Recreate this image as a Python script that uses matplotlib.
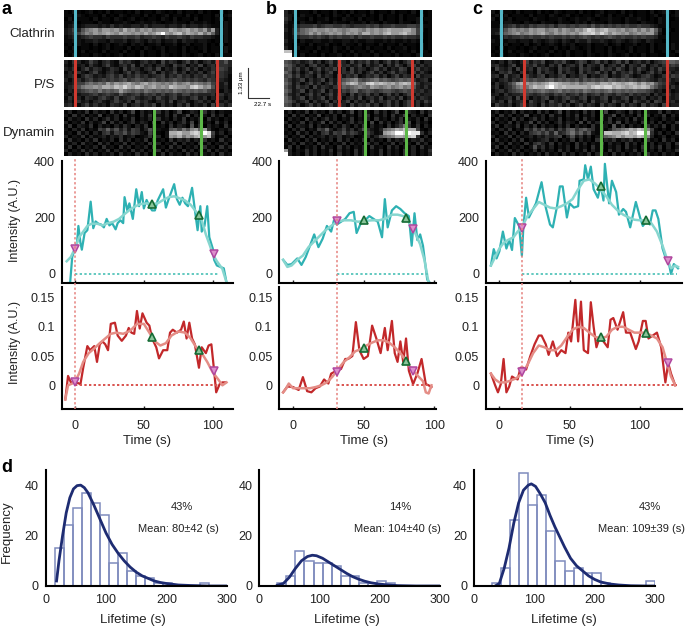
import matplotlib

matplotlib.use("Agg")

import matplotlib.pyplot as plt
import numpy as np

plt.rcParams["font.family"] = ["Liberation Sans", "DejaVu Sans"]
plt.rcParams["font.size"] = 9

W, H = 685, 627

# traces, panel a
a_teal_t = [-5, -3.5, -2, 0, 1.5, 2.5, 4, 5, 7, 9, 11.4, 13.3, 15, 17, 19, 21, 23, 25, 27, 29.5, 31, 33, 35, 36, 38, 39.5, 42, 44.5, 46.5, 48.5, 50, 52, 54, 56, 58, 60, 64, 66, 68, 72, 74, 76, 78, 80, 82, 85, 87, 89, 91, 92, 94, 96, 97.5, 100, 101, 103, 108, 110]
a_teal_v = [-32, -32, 60, 90, 110, 170, 110, 86, 145, 155, 256, 162, 186, 178, 175, 165, 195, 172, 180, 158, 180, 190, 180, 272, 225, 250, 195, 300, 240, 290, 232, 262, 240, 225, 225, 260, 300, 235, 265, 318, 265, 245, 270, 250, 240, 305, 228, 155, 240, 150, 170, 240, 130, 90, 50, 30, 20, -30]
a_teal_fit_t = [-6, -3, 0, 3, 6, 9, 12, 16, 20, 24, 28, 32, 36, 40, 44, 48, 52, 56, 60, 64, 68, 72, 76, 80, 84, 88, 92, 95, 98, 100, 103, 107, 110]
a_teal_fit_v = [45, 60, 90, 130, 150, 170, 178, 178, 172, 180, 185, 195, 212, 228, 240, 248, 250, 248, 250, 262, 272, 275, 268, 260, 245, 220, 190, 140, 100, 70, 45, 18, -30]
a_red_t = [-7, -5, -3, -1, 1, 4, 6, 9, 11, 14, 16, 18, 20, 22, 24, 26, 29, 31, 34, 37, 39, 41, 43, 45, 47, 49, 52, 54, 56, 59, 61, 64, 67, 69, 71, 74, 77, 79, 81, 83, 85, 87, 90, 92, 95, 97, 99, 101, 102.5, 105, 107, 109]
a_red_v = [-0.024, 0.016, 0.005, 0.005, 0.005, 0.002, 0.03, 0.067, 0.06, 0.067, 0.04, 0.07, 0.075, 0.07, 0.06, 0.105, 0.107, 0.085, 0.076, 0.085, 0.098, 0.09, 0.088, 0.127, 0.097, 0.123, 0.107, 0.102, 0.08, 0.065, 0.046, 0.06, 0.06, 0.09, 0.095, 0.09, 0.095, 0.109, 0.08, 0.107, 0.08, 0.07, 0.03, 0.065, 0.055, 0.068, 0.07, 0.025, -0.012, 0.002, 0.005, 0.005]
a_red_fit_t = [-7, -5, -2, 0, 3, 6, 10, 14, 18, 22, 26, 30, 35, 40, 45, 50, 54, 58, 62, 66, 70, 75, 80, 84, 88, 92, 96, 100, 104, 107, 110]
a_red_fit_v = [-0.024, 0.0, 0.003, 0.006, 0.02, 0.04, 0.055, 0.063, 0.072, 0.08, 0.088, 0.09, 0.088, 0.093, 0.105, 0.105, 0.09, 0.075, 0.068, 0.072, 0.085, 0.092, 0.09, 0.08, 0.065, 0.055, 0.04, 0.022, 0.01, 0.0, 0.005]

# traces, panel b
b_teal_t = [-7, -4, -1, 3, 6, 9, 12, 15, 18, 21, 24, 27, 29, 31, 34, 37, 40, 43, 45, 48, 51, 54, 57, 60, 63, 65, 67, 70, 73, 76, 79, 82, 84, 86, 88, 90, 92, 95, 97]
b_teal_v = [50, 32, 35, 55, 32, 60, 100, 140, 95, 125, 170, 150, 190, 175, 185, 195, 215, 220, 145, 180, 190, 205, 195, 185, 130, 265, 165, 225, 240, 230, 215, 205, 100, 215, 120, 140, 100, -20, -32]
b_teal_fit_t = [-7, -4, -1, 3, 7, 11, 15, 19, 23, 27, 31, 36, 41, 46, 51, 56, 61, 66, 70, 74, 78, 82, 86, 90, 93, 96]
b_teal_fit_v = [50, 25, 30, 50, 65, 95, 115, 135, 155, 170, 185, 190, 190, 185, 188, 190, 190, 197, 210, 210, 205, 185, 150, 105, 50, -32]
b_red_t = [-7, -4, 0, 4, 7, 10, 13, 16, 19, 22, 25, 27, 31, 34, 37, 39, 42, 44.5, 47, 50, 53, 56, 59, 62, 65, 67, 70, 72, 74, 76, 78, 80, 82, 85, 88, 91, 94, 96, 98]
b_red_v = [-0.012, -0.002, -0.003, -0.008, 0.014, -0.01, -0.012, -0.005, -0.002, 0.01, 0.003, 0.02, 0.025, 0.028, 0.045, 0.045, 0.05, 0.108, 0.06, 0.045, 0.05, 0.102, 0.08, 0.055, 0.098, 0.06, 0.11, 0.055, 0.04, 0.075, 0.04, 0.08, 0.025, 0.002, 0.02, 0.045, 0.002, 0.0, -0.003]
b_red_fit_t = [-7, -5, -3, 0, 4, 8, 12, 16, 20, 24, 28, 32, 36, 40, 44, 48, 52, 56, 60, 64, 68, 72, 76, 80, 84, 88, 92, 94, 96, 98]
b_red_fit_v = [-0.012, -0.006, 0.003, -0.005, -0.005, -0.005, -0.005, -0.003, 0.0, 0.005, 0.015, 0.028, 0.04, 0.048, 0.058, 0.062, 0.068, 0.073, 0.077, 0.077, 0.073, 0.065, 0.055, 0.042, 0.027, 0.017, 0.007, -0.012, -0.014, 0.0]

# traces, panel c
c_teal_t = [-6, -4, -2, 0, 2.5, 5, 7, 9, 11, 14, 16, 17, 19, 21, 24, 26, 30, 33, 36, 38, 41, 43, 45, 48, 50, 53, 56, 57, 60, 61, 63, 65, 67, 70, 72, 74, 75, 78, 80, 83, 85, 88, 90, 93, 95, 97, 100, 102, 105, 107, 109, 111, 113, 116, 118, 120, 122, 124, 127]
c_teal_v = [30, 88, 55, 80, 150, 90, 120, 85, 198, 170, 65, 160, 270, 200, 230, 250, 325, 235, 175, 165, 240, 310, 310, 200, 250, 235, 240, 330, 335, 385, 335, 380, 300, 270, 315, 260, 390, 250, 330, 290, 210, 230, 220, 165, 210, 255, 200, 170, 190, 175, 225, 225, 195, 90, 60, 50, 0, 35, 20]
c_teal_fit_t = [-6, -3, 0, 3, 6, 10, 13, 16, 20, 24, 28, 32, 36, 40, 44, 48, 52, 56, 60, 64, 68, 72, 76, 80, 84, 88, 92, 96, 100, 104, 108, 112, 116, 119, 122, 125, 127]
c_teal_fit_v = [30, 60, 90, 110, 120, 130, 150, 165, 205, 230, 255, 245, 235, 232, 240, 250, 265, 300, 330, 335, 320, 300, 275, 245, 225, 210, 200, 192, 190, 190, 180, 150, 100, 55, 20, 30, 25]
c_red_t = [-6, -3, -1, 1, 3, 5, 7, 9, 11, 13, 15, 17, 19, 22, 25, 28, 30, 33, 35, 38, 41, 44, 47, 49, 51, 54, 56, 58, 60, 63, 65, 67, 69, 71, 74, 77, 79, 81, 84, 88, 90, 93, 97, 99, 102, 104, 106, 109, 112, 115, 118, 120, 122, 125]
c_red_v = [0.02, 0.0, -0.012, 0.002, 0.045, -0.012, -0.002, 0.015, 0.012, 0.01, 0.03, 0.03, 0.027, 0.05, 0.07, 0.085, 0.085, 0.07, 0.052, 0.075, 0.05, 0.06, 0.055, 0.09, 0.075, 0.146, 0.075, 0.143, 0.06, 0.055, 0.142, 0.1, 0.065, 0.08, 0.075, 0.065, 0.112, 0.115, 0.095, 0.125, 0.09, 0.09, 0.062, 0.075, 0.11, 0.11, 0.08, 0.085, 0.09, 0.065, 0.005, 0.038, 0.02, 0.0]
c_red_fit_t = [-6, -3, 0, 4, 8, 12, 16, 20, 24, 28, 32, 36, 40, 44, 48, 52, 56, 60, 64, 68, 72, 76, 80, 84, 88, 92, 96, 100, 104, 108, 112, 116, 119, 122, 125]
c_red_fit_v = [0.02, 0.01, 0.005, 0.005, 0.008, 0.012, 0.02, 0.035, 0.055, 0.068, 0.065, 0.06, 0.06, 0.068, 0.082, 0.095, 0.1, 0.098, 0.09, 0.083, 0.08, 0.083, 0.095, 0.1, 0.1, 0.095, 0.09, 0.09, 0.09, 0.085, 0.08, 0.065, 0.04, 0.015, 0.0]

# marker points: onset/end (magenta), dynamin window (green)
a_magenta_t, a_green_t = [0, 101], [56, 90]
a_teal_magenta, a_teal_green = [88, 72], [247, 208]
a_red_magenta, a_red_green = [0.006, 0.025], [0.082, 0.06]
b_magenta_t, b_green_t = [31, 85], [50, 80]
b_teal_magenta, b_teal_green = [187, 160], [190, 197]
b_red_magenta, b_red_green = [0.023, 0.025], [0.063, 0.042]
c_magenta_t, c_green_t = [16, 120], [72, 104]
c_teal_magenta, c_teal_green = [162, 45], [312, 192]
c_red_magenta, c_red_green = [0.022, 0.038], [0.082, 0.09]

# lifetime histograms, 15 s bins
a_bin_left = [15, 30, 45, 60, 75, 90, 105, 120, 135, 150, 165, 180, 195, 255]
a_counts = [15, 24, 31, 37, 33, 28, 9, 13, 6, 4, 3, 1, 1, 1]
a_curve_x = [18, 22, 28, 34, 40, 46, 52, 58, 64, 70, 80, 90, 100, 110, 120, 130, 140, 150, 160, 170, 180, 190, 200, 220, 240, 270, 300]
a_curve_y = [2, 10, 20, 29, 35, 38.5, 39.8, 40, 39, 37, 32, 26.5, 21, 16.5, 13, 10, 7.5, 5.5, 4, 3, 2, 1.4, 1, 0.4, 0.2, 0, 0]
b_bin_left = [30, 45, 60, 75, 90, 105, 120, 135, 150, 165, 180, 195, 210]
b_counts = [1, 4, 14, 10, 9, 9, 8, 4, 4, 1, 1, 2, 1]
b_curve_x = [30, 40, 50, 60, 70, 80, 88, 95, 105, 115, 125, 135, 145, 155, 165, 175, 185, 195, 210, 230, 260, 300]
b_curve_y = [0.3, 1, 3.5, 7, 10, 11.7, 12.2, 12, 11, 9.5, 8, 6.5, 5, 3.7, 2.7, 1.9, 1.3, 0.9, 0.5, 0.15, 0, 0]
c_bin_left = [30, 45, 60, 75, 90, 105, 120, 135, 150, 165, 180, 195, 210, 285]
c_counts = [1, 7, 26, 45, 32, 36, 22, 10, 6, 7, 5, 5, 1, 2]
c_curve_x = [35, 42, 50, 58, 66, 74, 82, 90, 95, 102, 110, 118, 126, 134, 142, 150, 160, 170, 180, 190, 200, 210, 225, 240, 260, 285, 300]
c_curve_y = [0, 1, 7, 15, 25, 33, 38, 40, 40.5, 39.5, 36.5, 33, 28, 23.5, 19.5, 15.5, 11, 8, 6, 4, 2.6, 1.6, 0.8, 0.4, 0.1, 0, 0]

# kymographs, brightness by eye in hex digits
a_clathrin = [
    "1021012010201101020110210102011020100201",
    "1102101102010210110201012011020101102012",
    "0201110201102101201011021020110201101201",
    "1120111021101121012112101121102112101021",
    "1231233323242322332423332332423323211021",
    "2353689a8aa9a8b9a8a9a8999ba9ab9a8a6a3121",
    "2345798a9aba9baa9a9b9acfa9bc9ba9b8a73121",
    "1232345443544454453445435445435443321021",
    "1122122322132231232132312231322122101021",
    "0102110201201210212011201120120112010201",
    "1020110101201102010210120110201012011021",
    "0110201102011020102011020110201102011020",
    "1020110210101201102011021010210120102011",
]
a_ps = [
    "3143125313421534213423152431352413425463",
    "2132314213521342514231342153413251342443",
    "3241352431243152431342513241352413243542",
    "1324213521342135242135142352413241352432",
    "2341354232453524353423452435342435342431",
    "3134245345454564565456454565454543543321",
    "2235578787a8a9ab98ab9a9898a89a8987854241",
    "2346899a9bbacbdbacb9ab9a9cbaa9cdb9a63231",
    "1324567686767a87676876767687676767543132",
    "2132334534543643453545353453553433341423",
    "1423143245325234532342532452324524132313",
    "2314231342135324153421342513421342314232",
    "3421352423143251342435142314251324152424",
]
a_dynamin = [
    "1302140312041302503120413025013204130211",
    "2041302150213041203140213041250312041302",
    "0312041302413021402130412031402130412021",
    "3021403125041302413205041302415031204130",
    "1403214031203142031403120413206140312041",
    "2031402154746352541364211675869a7a410213",
    "1204130314525463542153102bbcaacdcfd51302",
    "3021403123132412301241302a9b8a9bcac40130",
    "0412031402130413021403120413241324120412",
    "2130412041302140312041302140312041302130",
    "1403021304120413021304120413021304120413",
    "3021413021403120413021403120413021403120",
    "0312041302130412041302140312041302130412",
]
b_clathrin = [
    "312011020110201020110201102011020101",
    "321021102010210201120102011020110201",
    "420110201120102110201102011020112011",
    "311021102110211021120210211021102101",
    "212344453455445434445453445444554211",
    "3135789a99a9a989aa98a9a9abaaabb95201",
    "213678a8a89a9a8a9a8bb9a9bcaabca95101",
    "212344545435454453544544545445443101",
    "311021122112112212112211212112121001",
    "210110201120102110201102011020110201",
    "310201102010210201102011020112010201",
    "cc1011020110201020110201102011020110",
    "ff2020110201120102011020110201102011",
]
b_ps = [
    "653423524135243152435241352413524133",
    "764231452314253423514235142531452423",
    "563524135243524152431352413254135232",
    "752413524135124352413524135243152421",
    "563524315243152435124352413524315233",
    "642351423514256789656786765676742341",
    "752413524135268acb89cdbcbab9bcb84233",
    "642534152432457678987a989a89a8963242",
    "752351423514235467456545665456543423",
    "632413524135243152435241352413524233",
    "752351423514251342513425134251342432",
    "764235142351423514231524352413524253",
    "652413524135243152435241352413524132",
]
b_dynamin = [
    "130214031204130250312041302501320413",
    "204130215021304120314021304125031204",
    "031204130241302140213041203140213041",
    "302140312504130241320504130241503120",
    "140321403120314203140312041358414031",
    "203140215473135241364213789bacbb5102",
    "120413031452546354215312abcffdfee413",
    "302140312313241230124136789bbacd4030",
    "041203140213041302140312041324132412",
    "213041204130214031204130214031204130",
    "140302130412041302130412041302130412",
    "a30214130214031204130214031204130214",
    "f31204130213041204130214031204130213",
]
c_clathrin = [
    "202110201102010210110201012011020101102012102",
    "120201110201102101201011021020110201101201012",
    "201120111021101121012112101121102112101021001",
    "110221102110211021102120211021102110211021011",
    "112345343545545355454554645454545445443211011",
    "224689898a9aa89a8a98a9bdcabcaa9a89a8a8a730101",
    "235789a89a9ab98a9a9a9bccdbdb9ba9a89a9aa620011",
    "112434454544545445454565454565454454544311011",
    "211122122132123213213224223212321232132110011",
    "110201102012012102120112011201201120102011021",
    "102011010120110201021012011020101201102011021",
    "011020110201102010201102011020110201102001102",
    "102011021010120110201102101021012010201100110",
]
c_ps = [
    "213142135243512435213541352413525134241345776",
    "342135124352314251342514325134251432513424454",
    "153241523415342153421534215342531425314253332",
    "214352142315243152431524352415243524135241423",
    "341523415324513245132451324513245312453124354",
    "213424356565567565656465656576565654543243423",
    "142357aba9a9abdcbaa9a89aa9bbacbabcb9b9a754321",
    "241346898acbbdfcbcbbbbbacdcddbcbabcbcb8643242",
    "134245676767876786767687676786767676654231312",
    "231423345434543545345353453543543534341423423",
    "412341524132451324532451324513245132413241323",
    "324152341532415324153241523415324153241542342",
    "153241352431524352413524315243152431524315233",
]
c_dynamin = [
    "130214031204130250312041302501320413021140312",
    "204130215021304120314021304125031204130214031",
    "031204130241302140213041203140213041202103120",
    "302140312504130241320504130241503120413030214",
    "140321403140312031403120413206140312041314031",
    "203140215364635253674675413136789bacb95102031",
    "120413031456463734685746214ccbbcdbcffd4130204",
    "302140312313243450362413025789b9bbacb93013021",
    "041203140212341302140312041324132412041204130",
    "213041204145314031204130214031204130213021304",
    "140302130262413021304120413021304120413140302",
    "302141302140312041302140312041302140312030214",
    "031204130213041204130214031204130213041203120",
]


def px_axes(fig, x0, y0, x1, y1):
    # box in picture pixels, y going down
    return fig.add_axes([x0 / W, 1 - y1 / H, (x1 - x0) / W, (y1 - y0) / H])


def draw_kymo(fig, rows, box, lines, color):
    x0, y0, x1, y1 = box
    n = min(len(r) for r in rows)
    img = np.array([[int(c, 16) for c in r[:n]] for r in rows])
    ax = px_axes(fig, x0, y0, x1, y1)
    ax.imshow((img / 15) ** 1.25, cmap="gray", vmin=0, vmax=1, aspect="auto",
              interpolation="nearest", extent=(x0, x1, y1, y0))
    for x in lines:
        ax.axvline(x, color=color, lw=2.2)
    ax.axis("off")


def draw_trace(ax, t, v, fit_t, fit_v, dark, light, zero_color, zero_end,
               magenta, green):
    ax.plot(t, v, color=dark, lw=1.6, solid_joinstyle="round")
    ax.plot(fit_t, fit_v, color=light, lw=1.8, solid_joinstyle="round")
    ax.plot([magenta[0][0], zero_end], [0, 0], color=zero_color, lw=1.4,
            ls=(0, (1.2, 1.2)))
    ax.plot(magenta[0], magenta[1], "v", ms=5.5, mfc="#dd90cc", mec="#b0479f", mew=1.1,
            ls="none", zorder=5)
    ax.plot(green[0], green[1], "^", ms=5.5, mfc="#8ac49a", mec="#146b34", mew=1.2,
            ls="none", zorder=5)


def style_axes(ax, xticks, yticks, yfmt=None, show_x=False):
    for side in ["top", "right"]:
        ax.spines[side].set_visible(False)
    for side in ["left", "bottom"]:
        ax.spines[side].set_linewidth(1.5)
    ax.patch.set_alpha(0)
    ax.set_xticks(xticks)
    ax.set_yticks(yticks)
    if yfmt:
        ax.set_yticklabels(yfmt)
    ax.tick_params(axis="y", length=0, pad=5, labelsize=9, colors="#222222")
    ax.tick_params(axis="x", length=2, width=1, direction="in", pad=8,
                   labelsize=9, labelbottom=show_x, colors="#222222")


def panel_traces(fig, xbox, xlim, onset, teal, teal_fit, red, red_fit,
                 m_t, g_t, teal_m, teal_g, red_m, red_g, zero_end):
    x0, x1 = xbox
    up = px_axes(fig, x0, 161, x1, 283)
    up.set_xlim(*xlim)
    up.set_ylim(-32, 400)
    draw_trace(up, *teal, *teal_fit, "#2eb1b3", "#86d6cf", "#62c9c0", zero_end,
               (m_t, teal_m), (g_t, teal_g))
    style_axes(up, [0, 50, 100], [0, 200, 400])

    low = px_axes(fig, x0, 287, x1, 409)
    low.set_xlim(*xlim)
    low.set_ylim(-0.0405, 0.168)
    draw_trace(low, *red, *red_fit, "#c2282a", "#e48d86", "#d9534f", zero_end,
               (m_t, red_m), (g_t, red_g))
    style_axes(low, [0, 50, 100], [0, 0.05, 0.1, 0.15],
               ["0", "0.05", "0.1", "0.15"], show_x=True)
    low.axvline(onset, ymin=0, ymax=(409 - 157) / (409 - 287), clip_on=False,
                color="#e5827f", lw=1.1, ls=(0, (1.5, 1.5)), zorder=4)
    return up, low


def panel_hist(fig, x0, x1, left, counts, cx, cy, pct, mean, pct_x, mean_x):
    ax = px_axes(fig, x0, 470, x1, 586)
    ax.bar(left, counts, width=15, align="edge", facecolor="none",
           edgecolor="#7f8bbd", lw=1.1)
    ax.plot(cx, cy, color="#1e2c72", lw=2)
    ax.set_xlim(0, 300)
    ax.set_ylim(0, 46)
    style_axes(ax, [0, 100, 200, 300], [0, 20, 40], show_x=True)
    ax.tick_params(axis="x", length=0, pad=6)
    fig.text(pct_x / W, 1 - 507 / H, pct, fontsize=8, ha="center", va="center", color="#222222")
    fig.text(mean_x / W, 1 - 529 / H, mean, fontsize=8, ha="center", va="center", color="#222222")
    return ax


def main():
    fig = plt.figure(figsize=(W / 100, H / 100), dpi=100)

    rows_y = [(10, 57), (60, 107), (110, 156)]
    cols = [
        (64, 231, [a_clathrin, a_ps, a_dynamin], [[75, 220.5], [75, 217], [154, 201]]),
        (284, 432, [b_clathrin, b_ps, b_dynamin], [[295, 421.3], [339, 412], [364.7, 405.7]]),
        (491, 678, [c_clathrin, c_ps, c_dynamin], [[501.3, 666.7], [523.7, 666.7], [601.3, 645.3]]),
    ]
    line_colors = ["#55b8c8", "#d03a30", "#5cb848"]
    for x0, x1, imgs, lines in cols:
        for (y0, y1), img, xs, col in zip(rows_y, imgs, lines, line_colors):
            draw_kymo(fig, img, (x0, y0, x1, y1), xs, col)

    for name, y in [("Clathrin", 34), ("P/S", 85), ("Dynamin", 133)]:
        fig.text(55 / W, 1 - y / H, name, fontsize=9.5, ha="right", va="center", color="#222222")
    for name, x, y in [("a", 2, 9), ("b", 266, 9), ("c", 472, 9), ("d", 1, 468)]:
        fig.text(x / W, 1 - y / H, name, fontsize=13, weight="bold", ha="left", va="center")

    # scale bar
    fig.add_artist(plt.Line2D([248 / W, 248 / W, 269 / W], [1 - 68 / H, 1 - 98 / H, 1 - 98 / H],
                              color="#333333", lw=0.8))
    fig.text(241 / W, 1 - 83 / H, "1.33 µm", fontsize=4.5, rotation=90, ha="center", va="center")
    fig.text(263 / W, 1 - 104 / H, "22.7 s", fontsize=4.5, ha="center", va="center")

    panel_traces(fig, (62, 233), (-9.4, 114.7), 0,
                 (a_teal_t, a_teal_v), (a_teal_fit_t, a_teal_fit_v),
                 (a_red_t, a_red_v), (a_red_fit_t, a_red_fit_v),
                 a_magenta_t, a_green_t, a_teal_magenta, a_teal_green,
                 a_red_magenta, a_red_green, 104)
    panel_traces(fig, (279.3, 435.7), (-9.7, 101), 31,
                 (b_teal_t, b_teal_v), (b_teal_fit_t, b_teal_fit_v),
                 (b_red_t, b_red_v), (b_red_fit_t, b_red_fit_v),
                 b_magenta_t, b_green_t, b_teal_magenta, b_teal_green,
                 b_red_magenta, b_red_green, 97)
    panel_traces(fig, (486, 681.7), (-9.5, 129.6), 16,
                 (c_teal_t, c_teal_v), (c_teal_fit_t, c_teal_fit_v),
                 (c_red_t, c_red_v), (c_red_fit_t, c_red_fit_v),
                 c_magenta_t, c_green_t, c_teal_magenta, c_teal_green,
                 c_red_magenta, c_red_green, 126)

    for y in [220, 342]:
        fig.text(15 / W, 1 - y / H, "Intensity (A.U.)", fontsize=9, rotation=90,
                 ha="center", va="center", color="#222222")
    for x in [147, 364, 570]:
        fig.text(x / W, 1 - 441 / H, "Time (s)", fontsize=9.5, ha="center", va="center", color="#222222")

    panel_hist(fig, 45.7, 226.7, a_bin_left, a_counts, a_curve_x, a_curve_y,
               "43%", "Mean: 80±42 (s)", 182, 178)
    panel_hist(fig, 259.3, 440, b_bin_left, b_counts, b_curve_x, b_curve_y,
               "14%", "Mean: 104±40 (s)", 400, 397)
    panel_hist(fig, 474, 655, c_bin_left, c_counts, c_curve_x, c_curve_y,
               "43%", "Mean: 109±39 (s)", 650, 642)

    fig.text(7 / W, 1 - 532 / H, "Frequency", fontsize=9.5, rotation=90, ha="center", va="center", color="#222222")
    for x in [133, 347, 564]:
        fig.text(x / W, 1 - 620 / H, "Lifetime (s)", fontsize=9.5, ha="center", va="center", color="#222222")

    fig.savefig("out.png", dpi=100)
    plt.close(fig)


if __name__ == "__main__":
    main()
